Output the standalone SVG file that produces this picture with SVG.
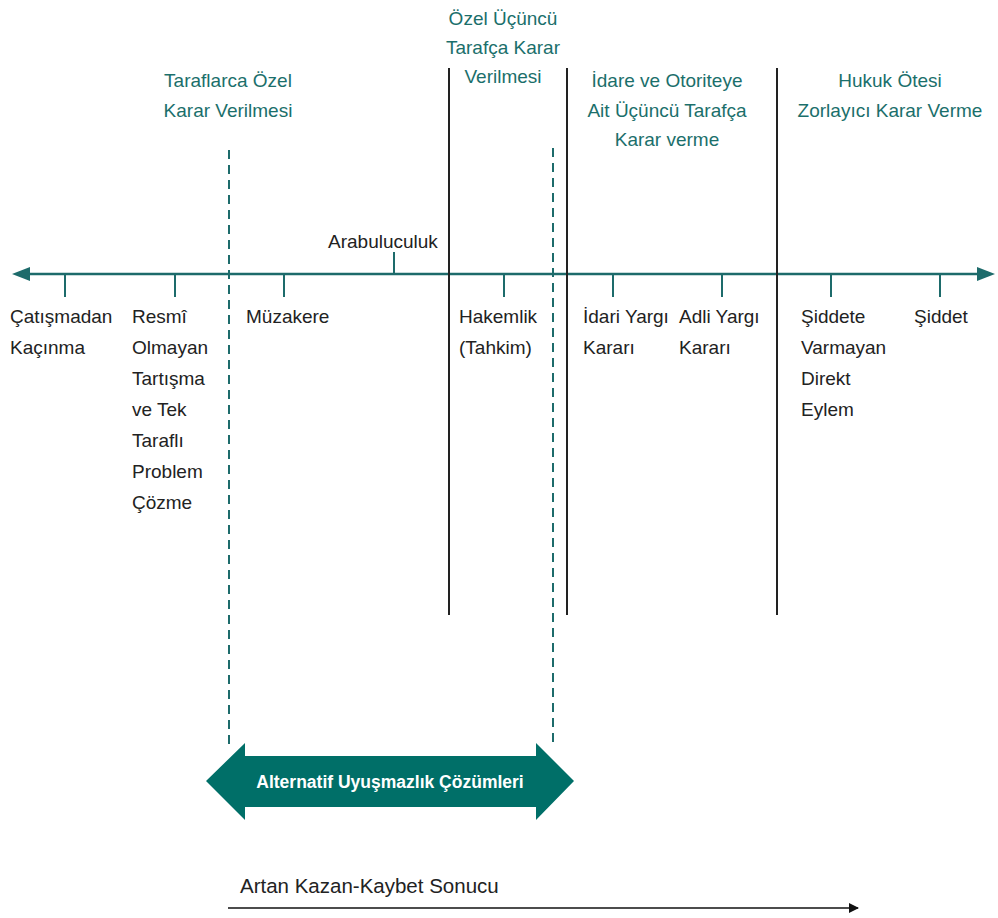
<svg xmlns="http://www.w3.org/2000/svg" width="998" height="918" viewBox="0 0 998 918">
<defs>
<style>
.h{font-family:"Liberation Sans",Arial,sans-serif;font-size:19px;fill:#1b6f6b;text-anchor:middle}
.l{font-family:"Liberation Sans",Arial,sans-serif;font-size:19px;fill:#222}
.axis{stroke:#1d6b6b;stroke-width:2.6;fill:none}
.tick{stroke:#1d6b6b;stroke-width:2;fill:none}
.dash{stroke:#1d6b6b;stroke-width:2;stroke-dasharray:9 6;fill:none}
.div{stroke:#222;stroke-width:2;fill:none}
</style>
<marker id="arrowBlack" viewBox="0 0 10 10" refX="9" refY="5" markerWidth="10" markerHeight="10" markerUnits="userSpaceOnUse" orient="auto">
<path d="M0,0 L10,5 L0,10 Z" fill="#111"/>
</marker>
</defs>
<rect width="998" height="918" fill="#fff"/>
<g id="connectors">
<line class="axis" x1="26" y1="274" x2="980" y2="274"/>
<path d="M12,274 L30,267 L30,281 Z" fill="#1d6b6b"/>
<path d="M995,274 L977,267 L977,281 Z" fill="#1d6b6b"/>
<line class="tick" x1="65" y1="274" x2="65" y2="297"/>
<line class="tick" x1="175" y1="274" x2="175" y2="297"/>
<line class="tick" x1="284" y1="274" x2="284" y2="297"/>
<line class="tick" x1="394" y1="252" x2="394" y2="274"/>
<line class="tick" x1="504" y1="274" x2="504" y2="297"/>
<line class="tick" x1="613" y1="274" x2="613" y2="297"/>
<line class="tick" x1="722" y1="274" x2="722" y2="297"/>
<line class="tick" x1="831" y1="274" x2="831" y2="297"/>
<line class="tick" x1="940" y1="274" x2="940" y2="297"/>
<line class="dash" x1="229" y1="150" x2="229" y2="746"/>
<line class="dash" x1="553" y1="148" x2="553" y2="742"/>
<line class="div" x1="449" y1="68" x2="449" y2="615"/>
<line class="div" x1="567" y1="68" x2="567" y2="615"/>
<line class="div" x1="777" y1="68" x2="777" y2="615"/>
<line x1="228" y1="908" x2="858" y2="908" stroke="#111" stroke-width="1.5" marker-end="url(#arrowBlack)"/>
</g>
<g id="heading-taraflarca">
<text class="h" x="228" y="87">Taraflarca Özel</text>
<text class="h" x="228" y="117">Karar Verilmesi</text>
</g>
<g id="heading-ozel">
<text class="h" x="503" y="25">Özel Üçüncü</text>
<text class="h" x="503" y="54">Tarafça Karar</text>
<text class="h" x="503" y="83">Verilmesi</text>
</g>
<g id="heading-idare">
<text class="h" x="667" y="87">İdare ve Otoriteye</text>
<text class="h" x="667" y="117">Ait Üçüncü Tarafça</text>
<text class="h" x="667" y="146">Karar verme</text>
</g>
<g id="heading-hukuk">
<text class="h" x="890" y="87">Hukuk Ötesi</text>
<text class="h" x="890" y="117">Zorlayıcı Karar Verme</text>
</g>
<g id="node-catismadan">
<text class="l" x="10" y="323">Çatışmadan</text>
<text class="l" x="10" y="354">Kaçınma</text>
</g>
<g id="node-resmi">
<text class="l" x="132" y="323">Resmî</text>
<text class="l" x="132" y="354">Olmayan</text>
<text class="l" x="132" y="385">Tartışma</text>
<text class="l" x="132" y="416">ve Tek</text>
<text class="l" x="132" y="447">Taraflı</text>
<text class="l" x="132" y="478">Problem</text>
<text class="l" x="132" y="509">Çözme</text>
</g>
<g id="node-muzakere">
<text class="l" x="246" y="323">Müzakere</text>
</g>
<g id="node-arabuluculuk">
<text class="l" x="328" y="248">Arabuluculuk</text>
</g>
<g id="node-hakemlik">
<text class="l" x="459" y="323">Hakemlik</text>
<text class="l" x="459" y="354">(Tahkim)</text>
</g>
<g id="node-idari">
<text class="l" x="583" y="323">İdari Yargı</text>
<text class="l" x="583" y="354">Kararı</text>
</g>
<g id="node-adli">
<text class="l" x="679" y="323">Adli Yargı</text>
<text class="l" x="679" y="354">Kararı</text>
</g>
<g id="node-siddete">
<text class="l" x="801" y="323">Şiddete</text>
<text class="l" x="801" y="354">Varmayan</text>
<text class="l" x="801" y="385">Direkt</text>
<text class="l" x="801" y="416">Eylem</text>
</g>
<g id="node-siddet">
<text class="l" x="914" y="323">Şiddet</text>
</g>
<g id="node-auc">
<path d="M206,781 L245,743 L245,756 L536,756 L536,743 L574,781 L536,820 L536,807 L245,807 L245,820 Z" fill="#006f68"/>
<text x="390" y="788" font-family="'Liberation Sans',Arial,sans-serif" font-size="17.5" font-weight="bold" fill="#fff" text-anchor="middle">Alternatif Uyuşmazlık Çözümleri</text>
</g>
<g id="node-artan">
<text x="240" y="893" font-family="'Liberation Sans',Arial,sans-serif" font-size="20.5" fill="#222">Artan Kazan-Kaybet Sonucu</text>
</g>
</svg>
